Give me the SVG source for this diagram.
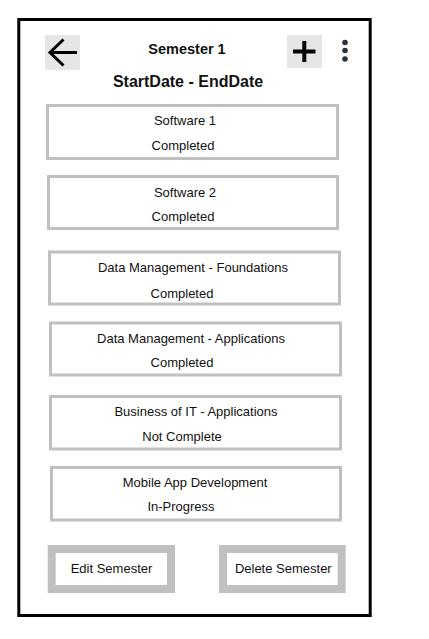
<svg xmlns="http://www.w3.org/2000/svg" width="429" height="639" viewBox="0 0 429 639">
<style>
text{font-family:"Liberation Sans",Arial,sans-serif;fill:#111;text-anchor:middle}
.t{font-size:13px}
.card{fill:#fff;stroke:#c0c0c0;stroke-width:3}
.btn{fill:#fff;stroke:#c0c0c0;stroke-width:8}
</style>
<rect x="0" y="0" width="429" height="639" fill="#fff"/>
<g id="frame"><rect x="18.8" y="19.5" width="351.4" height="596" fill="#fff" stroke="#000" stroke-width="3"/></g>
<g id="back"><rect x="45" y="35" width="35" height="35" fill="#e6e6e6"/>
<path d="M49.5 52.5H77 M63.5 39.5L50 52.5L63.5 65.5" fill="none" stroke="#000" stroke-width="3"/></g>
<g id="title"><text x="187" y="54" style="font-size:14.5px;font-weight:bold">Semester 1</text>
<text x="188" y="87" style="font-size:16px;font-weight:bold">StartDate - EndDate</text></g>
<g id="add"><rect x="287" y="35" width="35" height="33" fill="#e6e6e6"/>
<path d="M293 51.5H315.5 M304.3 41V62" stroke="#000" stroke-width="4"/></g>
<g id="menu" fill="#2a3340"><circle cx="345" cy="42.5" r="2.8"/><circle cx="345" cy="50.5" r="2.8"/><circle cx="345" cy="59" r="2.8"/></g>
<g id="course1"><rect class="card" x="47.5" y="105.5" width="290" height="53"/><text class="t" x="185" y="125">Software 1</text><text class="t" x="183" y="150">Completed</text></g>
<g id="course2"><rect class="card" x="48.5" y="176.5" width="289" height="52"/><text class="t" x="185" y="197">Software 2</text><text class="t" x="183" y="221">Completed</text></g>
<g id="course3"><rect class="card" x="49.5" y="252" width="290" height="52"/><text class="t" x="193" y="272">Data Management - Foundations</text><text class="t" x="182" y="297.5">Completed</text></g>
<g id="course4"><rect class="card" x="50.5" y="323" width="290" height="52"/><text class="t" x="191" y="343">Data Management - Applications</text><text class="t" x="182" y="367">Completed</text></g>
<g id="course5"><rect class="card" x="50.5" y="396.5" width="290" height="52.5"/><text class="t" x="196" y="416">Business of IT - Applications</text><text class="t" x="182" y="440.5">Not Complete</text></g>
<g id="course6"><rect class="card" x="51.5" y="467.5" width="289" height="52.5"/><text class="t" x="195" y="487">Mobile App Development</text><text class="t" x="181" y="511">In-Progress</text></g>
<g id="edit"><rect class="btn" x="51.7" y="549" width="119.3" height="40"/><text class="t" x="111.5" y="573">Edit Semester</text></g>
<g id="delete"><rect class="btn" x="223" y="549" width="118.7" height="40"/><text class="t" x="283.3" y="573">Delete Semester</text></g>
<g id="connectors"></g>
</svg>
